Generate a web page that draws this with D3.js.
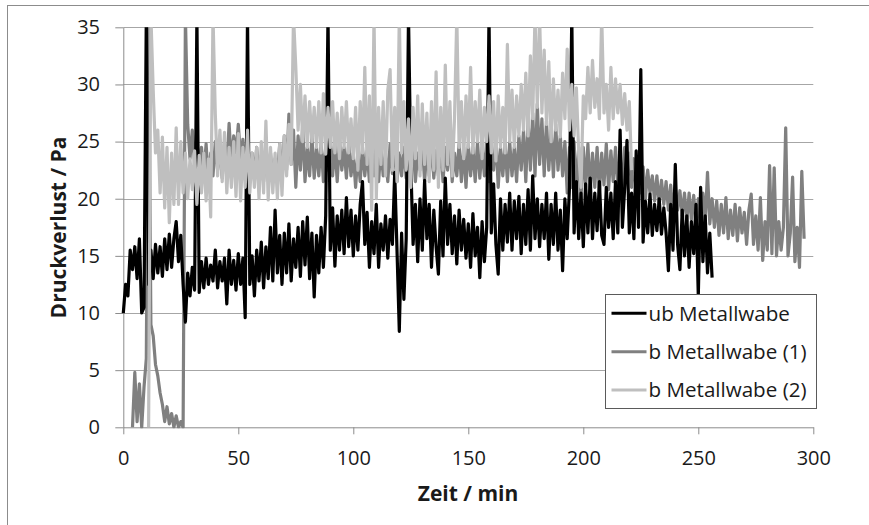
<!DOCTYPE html>
<html><head><meta charset="utf-8">
<script src="https://cdn.jsdelivr.net/npm/d3@7"></script>
<style>body{margin:0;background:#fff}svg{display:block}</style>
</head><body>
<svg id="c" width="869" height="525"></svg>
<script>
// time axis: series start (min) and sample step (min)
const ubStart = 0, b1Start = 4, b2Start = 11, stepMin = 1;

// ub Metallwabe (Pa), t = 0..256 min
const ub = [10.0,12.5,11.5,15.5,13.8,15.8,13.0,16.5,10.0,10.5,
36,12.5,15.5,13.0,16.0,13.5,15.8,13.2,16.5,13.8,
16.9,14.0,16.5,18.0,14.5,16.8,12.5,9.2,13.5,11.5,
14.0,12.0,36,11.8,14.5,12.2,14.8,12.5,14.2,12.8,
15.5,12.2,14.5,12.8,14.8,10.8,15.5,12.5,14.6,12.0,
15.2,12.5,14.8,9.6,36,12.5,15.0,11.5,15.5,12.8,
16.2,12.2,15.8,13.0,17.5,12.8,19.0,13.5,16.8,12.5,
17.0,13.5,17.8,12.8,16.5,14.0,17.5,13.2,18.0,14.2,
18.4,13.0,17.0,11.4,16.8,13.5,17.5,14.0,18.5,36,
15.5,19.2,14.1,18.5,15.5,19.0,15.2,20.1,15.8,19.0,
15.0,18.5,15.5,19.5,21.5,16.0,18.8,14.0,18.0,15.2,
19.5,14.0,17.8,15.5,18.5,14.8,18.2,16.0,22.3,15.5,
8.4,17.0,11.2,16.5,36,23.0,16.0,19.5,14.5,20.0,
15.5,21.6,16.5,19.5,14.0,19.0,15.8,13.4,19.8,15.0,
21.8,16.0,19.5,15.2,18.5,14.3,19.0,15.5,18.2,14.8,
17.8,14.0,18.7,15.0,17.5,13.1,18.0,14.5,17.5,36,
17.0,21.3,16.0,13.4,20.0,15.5,19.5,16.2,20.5,15.5,
19.8,16.5,20.2,15.2,19.5,16.0,20.8,15.5,22.0,16.5,
20.0,15.8,19.5,16.5,20.5,14.7,19.5,16.0,20.5,15.5,
19.0,13.7,20.0,16.5,21.0,36,17.0,21.5,16.5,20.5,
15.8,21.3,17.0,21.8,16.5,20.5,17.2,21.5,16.8,16.0,
21.0,17.5,20.5,16.5,21.5,17.0,26.0,17.5,21.0,25.1,
17.0,20.5,16.5,24.2,17.5,31.3,16.2,19.8,17.0,20.4,
16.8,19.5,17.2,20.0,16.9,19.2,17.0,13.7,19.5,15.5,
23.0,16.0,13.8,19.0,15.0,18.5,14.0,18.0,15.2,19.5,
11.5,21.0,14.5,18.5,13.5,17.0,13.1];

// b Metallwabe (1) (Pa), t = 4..296 min
const b1 = [0,4.8,0.5,3.8,0,3.5,6.0,36,9.0,8.0,
5.5,4.5,3.0,2.0,0.5,1.8,0.3,1.2,0,1.0,
0,0.5,0,36,26.5,23.5,26.0,23.0,25.5,22.5,
24.5,22.0,24.8,21.5,24.0,22.0,25.0,22.5,24.5,21.8,
25.0,22.5,26.6,23.0,25.5,24.0,26.5,23.5,25.2,22.5,
24.5,21.5,24.0,22.0,24.5,21.8,23.8,21.5,24.5,22.0,
24.0,21.5,23.5,22.0,24.8,21.8,25.5,22.5,27.4,23.0,
26.0,21.0,25.5,22.5,26.5,21.5,24.5,22.0,25.5,21.8,
24.5,22.0,25.0,21.5,24.5,22.5,25.5,22.0,24.8,21.5,
25.2,22.5,24.5,21.8,25.0,22.0,24.0,21.0,23.9,21.5,
24.5,22.0,24.2,21.5,24.8,22.0,25.0,21.5,24.5,22.0,
24.0,21.5,24.8,22.2,25.0,21.5,24.0,22.0,24.5,21.8,
25.0,22.0,24.5,21.5,24.0,22.5,25.0,21.5,24.5,22.0,
24.8,21.8,24.2,22.0,25.0,21.5,24.5,22.5,25.5,21.5,
24.0,22.0,24.8,21.5,24.5,21.0,24.8,22.0,24.5,21.5,
25.0,21.8,24.5,22.0,25.2,21.5,24.0,22.5,25.5,21.0,
24.5,22.0,24.8,21.5,25.0,22.0,24.5,21.5,25.5,22.5,
26.0,21.5,26.8,22.5,27.5,22.0,28.3,23.0,27.0,22.0,
26.8,22.5,26.0,21.9,26.5,22.5,25.5,22.0,25.0,20.5,
24.5,21.0,25.0,20.5,24.5,20.0,24.5,21.0,24.8,20.5,
24.0,21.0,24.5,20.5,24.0,21.2,24.8,20.8,24.2,21.5,
24.5,21.0,23.9,20.5,24.5,21.5,24.0,21.0,23.5,20.5,
23.0,20.5,22.8,20.0,22.5,20.5,22.0,19.8,22.0,19.5,
21.6,19.5,21.5,19.0,21.2,18.7,21.0,19.0,20.7,18.5,
20.5,18.0,20.5,18.2,20.3,17.8,20.0,17.5,20.5,18.0,
22.3,17.8,20.0,17.5,19.8,16.8,19.5,17.0,20.1,16.5,
19.0,16.8,19.5,16.3,19.2,17.0,18.8,16.0,19.0,20.4,
16.0,18.5,15.5,20.1,14.6,18.0,15.5,22.9,15.2,22.7,
15.0,18.0,15.5,17.5,26.2,15.0,17.0,21.9,14.5,17.5,
14.0,22.4,16.5];

// b Metallwabe (2) (Pa), t = 11..221 min
const b2 = [0,36,29.5,24.0,26.0,20.5,25.4,19.2,24.5,17.9,
24.0,19.5,26.2,19.5,25.0,20.5,24.0,20.0,23.5,20.8,
24.2,19.5,23.8,20.5,24.0,19.8,23.5,18.4,36,27.4,
22.0,26.0,21.5,25.8,20.5,24.5,21.0,25.0,20.2,25.7,
19.8,24.5,21.0,26.0,20.5,24.0,21.0,24.5,20.0,25.0,
20.5,26.8,19.9,24.5,20.5,24.0,20.0,24.8,20.3,25.5,
22.0,26.5,23.0,36,31.5,26.0,30.0,25.0,29.0,24.5,
28.5,25.0,28.0,24.5,28.5,24.0,29.2,23.9,28.0,24.5,
28.5,24.0,27.5,23.5,28.0,24.5,28.5,24.0,27.0,23.5,
28.0,22.5,28.5,24.0,31.5,23.0,29.0,19.0,36,20.0,
28.0,23.0,28.5,22.0,29.5,31.3,22.5,28.0,21.5,36,
24.0,28.5,22.5,27.0,21.0,28.0,23.5,29.0,22.0,28.3,
23.0,27.5,21.5,28.5,22.5,31.1,21.0,28.0,22.5,31.7,
23.0,28.5,22.0,27.0,36,24.5,28.5,23.5,29.0,24.5,
31.5,24.0,28.5,25.0,29.5,23.5,28.0,25.0,29.0,24.0,
28.5,23.3,29.0,24.5,28.0,24.0,33.5,25.0,29.5,24.5,
29.0,25.5,30.0,26.0,31.0,25.5,32.5,27.0,36,28.0,
36,27.5,33.0,26.5,32.0,25.0,30.5,26.0,29.5,25.4,
31.0,27.0,33.1,26.0,30.0,25.5,29.7,24.0,21.0,29.0,
27.0,31.5,27.5,32.1,28.0,30.5,27.0,36,27.5,30.0,
26.0,31.5,27.0,30.5,27.5,30.0,26.5,29.2,26.0,28.5,
22.5];

const xTicks = [0, 50, 100, 150, 200, 250, 300];
const yTicks = [0, 5, 10, 15, 20, 25, 30, 35];
const seriesNames = ["ub Metallwabe", "b Metallwabe (1)", "b Metallwabe (2)"];
const xTitle = "Zeit / min";
const yTitle = "Druckverlust / Pa";

const FONT = "'Open Sans', sans-serif";
const svg = d3.select("#c");
const x = d3.scaleLinear().domain([0, 300]).range([123.3, 813.3]);
const y = d3.scaleLinear().domain([0, 35]).range([427.3, 27.3]);

// outer frame (only left and top edges visible)
svg.append("rect").attr("x", 7.5).attr("y", 5.5).attr("width", 1000).attr("height", 1000)
  .attr("fill", "#fff").attr("stroke", "#8c8c8c").attr("stroke-width", 1);

// gridlines
svg.append("g").selectAll("line").data(yTicks.filter(v => v > 0)).join("line")
  .attr("x1", x(0)).attr("x2", x(300))
  .attr("y1", d => Math.round(y(d)) + 0.5).attr("y2", d => Math.round(y(d)) + 0.5)
  .attr("stroke", "#a6a6a6").attr("stroke-width", 1);

// axes
const gy = svg.append("g").attr("transform", `translate(${x(0)},0)`)
  .call(d3.axisLeft(y).tickValues(yTicks).tickSizeInner(8).tickSizeOuter(0).tickPadding(15.3));
const gx = svg.append("g").attr("transform", `translate(0,${y(0)})`)
  .call(d3.axisBottom(x).tickValues(xTicks).tickSizeInner(7).tickSizeOuter(0).tickPadding(16.5));
[gx, gy].forEach(g => {
  g.selectAll("path,line").attr("stroke", "#8c8c8c").attr("stroke-width", 1);
  g.selectAll("text").attr("font-family", FONT).attr("font-size", 20).attr("fill", "#1a1a1a");
});

// clip
svg.append("clipPath").attr("id", "plotclip").append("rect")
  .attr("x", 115).attr("y", y(35)).attr("width", 710).attr("height", y(0) - y(35) + 1);

const mk = start => d3.line().x((d, i) => x(start + i * stepMin)).y(d => y(d));
const plot = svg.append("g").attr("clip-path", "url(#plotclip)");
const series = [
  {data: b1, start: b1Start, color: "#808080"},
  {data: ub, start: ubStart, color: "#000000"},
  {data: b2, start: b2Start, color: "#bfbfbf"}
];
plot.selectAll("path").data(series).join("path")
  .attr("d", s => mk(s.start)(s.data))
  .attr("fill", "none").attr("stroke", s => s.color)
  .attr("stroke-width", 3.2).attr("stroke-linejoin", "round");

// axis titles
svg.append("text").attr("x", 468).attr("y", 500.5).attr("text-anchor", "middle")
  .attr("font-family", FONT).attr("font-weight", "bold").attr("font-size", 21).attr("fill", "#1a1a1a")
  .text(xTitle);
svg.append("text").attr("transform", "translate(66,227.5) rotate(-90)").attr("text-anchor", "middle")
  .attr("font-family", FONT).attr("font-weight", "bold").attr("font-size", 21).attr("fill", "#1a1a1a")
  .text(yTitle);

// legend
const lg = svg.append("g");
lg.append("rect").attr("x", 605.5).attr("y", 294.5).attr("width", 211).attr("height", 114)
  .attr("fill", "#fff").attr("stroke", "#5a5a5a").attr("stroke-width", 1);
const legColors = ["#000000", "#808080", "#bfbfbf"];
const rows = lg.selectAll("g.r").data(seriesNames).join("g").attr("class", "r")
  .attr("transform", (d, i) => `translate(0,${313.3 + i * 38.4})`);
rows.append("line").attr("x1", 611.5).attr("x2", 646.5).attr("y1", 0).attr("y2", 0)
  .attr("stroke", (d, i) => legColors[i]).attr("stroke-width", 3);
rows.append("text").attr("x", 648.5).attr("dy", "0.35em")
  .attr("font-family", FONT).attr("font-size", 20.6).attr("fill", "#1a1a1a").text(d => d);
</script>
</body></html>
